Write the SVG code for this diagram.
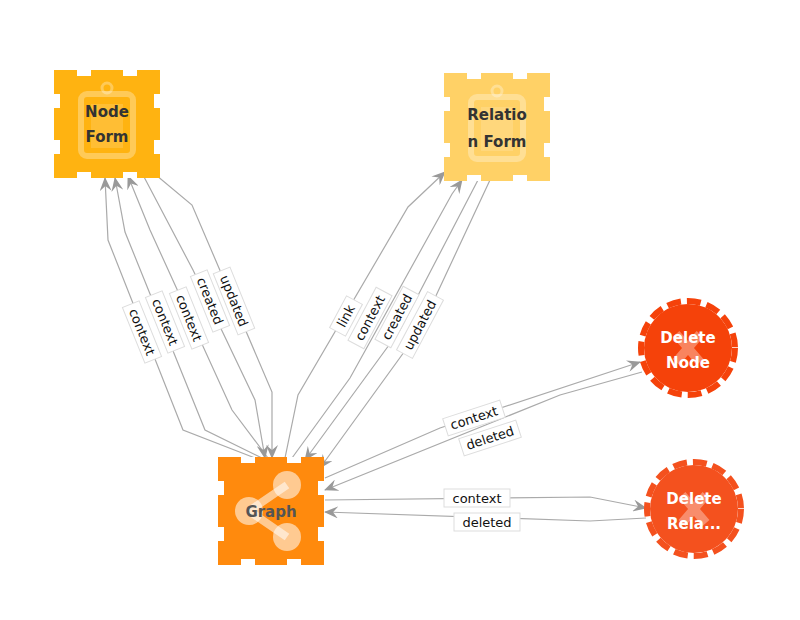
<svg xmlns="http://www.w3.org/2000/svg" width="800" height="620" viewBox="0 0 800 620">
<style>
.e{fill:none;stroke:#aaa;stroke-width:1.2}
.lb{fill:#fff;stroke:#ddd;stroke-width:1}
.lt{font-family:"DejaVu Sans",sans-serif;font-size:13px;fill:#111;text-anchor:middle;dominant-baseline:central}
.nt{font-family:"DejaVu Sans",sans-serif;font-size:15px;font-weight:bold;text-anchor:middle}
.notch{fill:#fff}
</style>
<defs>
<marker id="a" viewBox="0 0 14 12" refX="13" refY="6" markerWidth="14" markerHeight="12" markerUnits="userSpaceOnUse" orient="auto">
<path d="M0,0 L14,6 L0,12 L5,6 z" fill="#999"/>
</marker>
<g id="sq">
<rect x="-53" y="-54" width="106" height="108"/>
<rect class="notch" x="-30" y="-54" width="14" height="6"/>
<rect class="notch" x="16" y="-54" width="14" height="6"/>
<rect class="notch" x="-30" y="48" width="14" height="6"/>
<rect class="notch" x="16" y="48" width="14" height="6"/>
<rect class="notch" x="-53" y="-30" width="6" height="14"/>
<rect class="notch" x="-53" y="16" width="6" height="14"/>
<rect class="notch" x="47" y="-30" width="6" height="14"/>
<rect class="notch" x="47" y="16" width="6" height="14"/>
</g>
<g id="clip">
<rect x="-26" y="-30" width="52" height="62" rx="6" fill="none" stroke="#fff" stroke-opacity="0.3" stroke-width="6"/>
<rect x="-16" y="-20" width="32" height="44" fill="#fff" fill-opacity="0.15"/>
<circle cx="0" cy="-36" r="5" fill="none" stroke="#fff" stroke-opacity="0.3" stroke-width="3"/>
</g>
</defs>
<g id="connectors">
<polyline class="e" marker-end="url(#a)" points="255,458 183,430 108,240 105,178"/>
<polyline class="e" marker-end="url(#a)" points="262,458 205,430 125,232 115,178"/>
<polyline class="e" marker-end="url(#a)" points="268,458 232,410 150,230 128,176"/>
<polyline class="e" marker-end="url(#a)" points="143,175 193,270 255,400 265,458"/>
<polyline class="e" marker-end="url(#a)" points="150,170 192,205 272,392 272,458"/>
<polyline class="e" marker-end="url(#a)" points="285,458 298,395 408,207 445,172"/>
<polyline class="e" marker-end="url(#a)" points="292,458 350,378 452,194 462,180"/>
<polyline class="e" marker-end="url(#a)" points="478,180 400,330 305,460"/>
<polyline class="e" marker-end="url(#a)" points="490,180 420,330 320,468"/>
<polyline class="e" marker-end="url(#a)" points="325,478 440,428 640,362"/>
<polyline class="e" marker-end="url(#a)" points="642,372 560,395 325,490"/>
<polyline class="e" marker-end="url(#a)" points="325,500 590,497 646,508"/>
<polyline class="e" marker-end="url(#a)" points="646,518 590,521 325,512"/>
</g>
<g id="labels">
<g transform="translate(142,332) rotate(68)"><rect class="lb" x="-30" y="-9" width="60" height="18"/><text class="lt">context</text></g>
<g transform="translate(165,322) rotate(68)"><rect class="lb" x="-30" y="-9" width="60" height="18"/><text class="lt">context</text></g>
<g transform="translate(189,318) rotate(68)"><rect class="lb" x="-30" y="-9" width="60" height="18"/><text class="lt">context</text></g>
<g transform="translate(210,301) rotate(68)"><rect class="lb" x="-30" y="-9" width="60" height="18"/><text class="lt">created</text></g>
<g transform="translate(234,301) rotate(68)"><rect class="lb" x="-33" y="-9" width="66" height="18"/><text class="lt">updated</text></g>
<g transform="translate(346,316) rotate(-62)"><rect class="lb" x="-18" y="-9" width="36" height="18"/><text class="lt">link</text></g>
<g transform="translate(370,318) rotate(-62)"><rect class="lb" x="-30" y="-9" width="60" height="18"/><text class="lt">context</text></g>
<g transform="translate(397,317) rotate(-62)"><rect class="lb" x="-30" y="-9" width="60" height="18"/><text class="lt">created</text></g>
<g transform="translate(420,325) rotate(-62)"><rect class="lb" x="-33" y="-9" width="66" height="18"/><text class="lt">updated</text></g>
<g transform="translate(474,418) rotate(-18)"><rect class="lb" x="-30" y="-9" width="60" height="18"/><text class="lt">context</text></g>
<g transform="translate(490,438) rotate(-18)"><rect class="lb" x="-30" y="-9" width="60" height="18"/><text class="lt">deleted</text></g>
<g transform="translate(477,498)"><rect class="lb" x="-33" y="-9" width="66" height="18"/><text class="lt">context</text></g>
<g transform="translate(487,522)"><rect class="lb" x="-33" y="-9" width="66" height="18"/><text class="lt">deleted</text></g>
</g>
<g id="node-form" transform="translate(107,124)">
<use href="#sq" fill="#FFB311"/>
<use href="#clip"/>
<text class="nt" fill="#333" y="-7">Node</text><text class="nt" fill="#333" y="18">Form</text>
</g>
<g id="relation-form" transform="translate(497,127)">
<use href="#sq" fill="#FFD166"/>
<use href="#clip"/>
<text class="nt" fill="#333" y="-7">Relatio</text><text class="nt" fill="#333" y="20">n Form</text>
</g>
<g id="graph" transform="translate(271,511)">
<use href="#sq" fill="#FF8A0D"/>
<g fill="#fff" fill-opacity="0.55" stroke="#fff" stroke-opacity="0.55">
<circle cx="-22" cy="0" r="14" stroke="none"/>
<circle cx="16" cy="-26" r="14" stroke="none"/>
<circle cx="16" cy="26" r="14" stroke="none"/>
<path d="M-22,0 L16,-26 M-22,0 L16,26" stroke-width="8" fill="none"/>
</g>
<text class="nt" fill="#555" y="6">Graph</text>
</g>
<g id="delete-node" transform="translate(688,348)">
<circle r="44" fill="#F5420A"/>
<circle r="47" fill="none" stroke="#F5420A" stroke-width="6" stroke-dasharray="14 6"/>
<path d="M-12,-14 L12,14 M12,-14 L-12,14" stroke="#fff" stroke-opacity="0.35" stroke-width="9"/>
<text class="nt" fill="#fff" y="-5">Delete</text><text class="nt" fill="#fff" y="20">Node</text>
</g>
<g id="delete-relation" transform="translate(694,509)">
<circle r="44" fill="#F4511E"/>
<circle r="47" fill="none" stroke="#F4511E" stroke-width="6" stroke-dasharray="14 6"/>
<path d="M-12,-14 L12,14 M12,-14 L-12,14" stroke="#fff" stroke-opacity="0.35" stroke-width="9"/>
<text class="nt" fill="#fff" y="-5">Delete</text><text class="nt" fill="#fff" y="20">Rela...</text>
</g>
</svg>
